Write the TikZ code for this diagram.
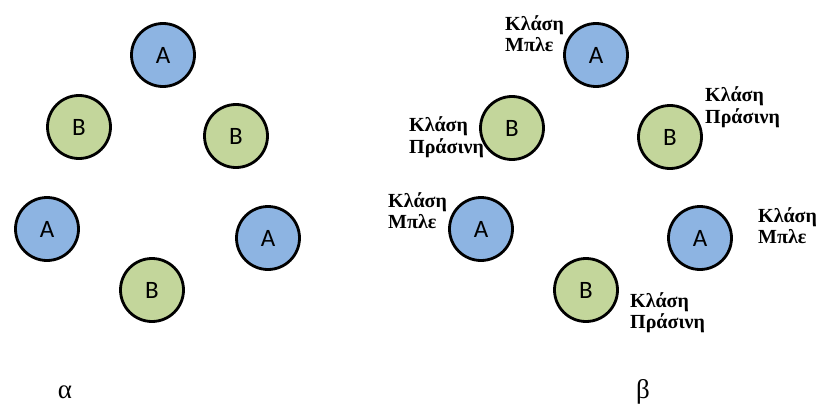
\documentclass[tikz,border=0pt]{standalone}
\usepackage{fontspec}
\setmainfont{Liberation Serif}
\newfontfamily\circfont{Carlito}
\definecolor{clsblue}{RGB}{141,180,226}
\definecolor{clsgreen}{RGB}{195,214,155}
\begin{document}
\begin{tikzpicture}[x=1pt,y=-1pt,
  ball/.style={circle,draw=black,line width=2.8pt,minimum size=63pt,inner sep=0pt,font=\circfont\fontsize{25}{25}\selectfont},
  ballA/.style={ball,fill=clsblue},
  ballB/.style={ball,fill=clsgreen},
  % a two-line label, placed by the baseline of its second line
  lbl/.style={align=left,inner sep=0pt,anchor=base west,font=\bfseries\fontsize{20}{21}\selectfont},
  caption/.style={inner sep=0pt,anchor=base,font=\fontsize{27}{27}\selectfont}]
\useasboundingbox (0,0) rectangle (817,404);
% panel (a)
\node[ballA] (a1) at (163,55) {A};
\node[ballB] (a2) at (79,127) {B};
\node[ballB] (a3) at (236,136) {B};
\node[ballA] (a4) at (47,229) {A};
\node[ballA] (a5) at (268,238) {A};
\node[ballB] (a6) at (152,290) {B};
\node[caption] (ca) at (65,398) {α};
% panel (b)
\node[ballA] (b1) at (596,55) {A};
\node[ballB] (b3) at (670,137) {B};
\node[ballA] (b4) at (481,229) {A};
\node[ballA] (b5) at (700,238) {A};
\node[ballB] (b6) at (586,290) {B};
\node[lbl] (l1) at (505,52) {Κλάση\\Μπλε};
\node[lbl] (l2) at (409,153) {Κλάση\\Πράσινη};
\node[ballB] (b2) at (512,128) {B};
\node[lbl] (l3) at (705,123) {Κλάση\\Πράσινη};
\node[lbl] (l4) at (388,228) {Κλάση\\Μπλε};
\node[lbl] (l5) at (758,243) {Κλάση\\Μπλε};
\node[lbl] (l6) at (630,328) {Κλάση\\Πράσινη};
\node[caption] (cb) at (643,398) {β};
\end{tikzpicture}
\end{document}
